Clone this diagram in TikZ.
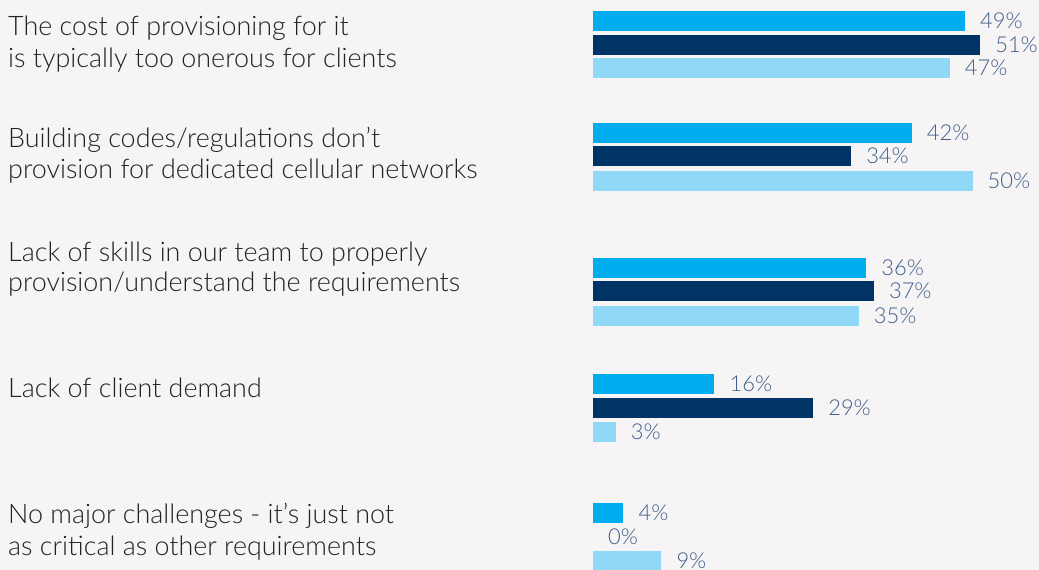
\documentclass[tikz,border=0pt]{standalone}
\usepackage{fontspec}
\setmainfont{Lato Light}
\definecolor{bgc}{HTML}{F6F4F5}
\definecolor{cA}{HTML}{00AEEF}
\definecolor{cB}{HTML}{003466}
\definecolor{cC}{HTML}{8FD8F6}
\definecolor{txt}{HTML}{222222}
\definecolor{pct}{HTML}{3F5F8A}
\newcommand\mybar[4]{%
  \ifnum#4>0 \fill[#3] (593,#2) rectangle ++({7.59*#4},20);\fi
  \node[val] (#1) at ({593+7.59*#4+15},{#2+10}) {#4\%};}
\begin{document}
\begin{tikzpicture}[x=1bp,y=-1bp,
  cat/.style={anchor=base west, inner sep=0, font=\fontsize{27}{31}\selectfont, text=txt},
  val/.style={anchor=west, inner sep=0, font=\fontsize{22}{22}\selectfont, text=pct}]
\fill[bgc] (0,0) rectangle (1039,570);
\useasboundingbox (0,0) rectangle (1039,570);
% group 1
\node[cat] (t1a) at (8,36) {The cost of provisioning for it};
\node[cat] (t1b) at (8,68) {is typically too onerous for clients};
\mybar{v1a}{11}{cA}{49}
\mybar{v1b}{35}{cB}{51}
\mybar{v1c}{58}{cC}{47}
% group 2
\node[cat] (t2a) at (8,148) {Building codes/regulations don’t};
\node[cat] (t2b) at (8,179) {provision for dedicated cellular networks};
\mybar{v2a}{123}{cA}{42}
\mybar{v2b}{146}{cB}{34}
\mybar{v2c}{171}{cC}{50}
% group 3
\node[cat] (t3a) at (8,262) {Lack of skills in our team to properly};
\node[cat] (t3b) at (8,292) {provision/understand the requirements};
\mybar{v3a}{258}{cA}{36}
\mybar{v3b}{281}{cB}{37}
\mybar{v3c}{306}{cC}{35}
% group 4
\node[cat] (t4a) at (8,397) {Lack of client demand};
\mybar{v4a}{374}{cA}{16}
\mybar{v4b}{398}{cB}{29}
\mybar{v4c}{422}{cC}{3}
% group 5
\node[cat] (t5a) at (8,523) {No major challenges - it’s just not};
\node[cat] (t5b) at (8,555) {as critical as other requirements};
\mybar{v5a}{503}{cA}{4}
\mybar{v5b}{527}{cB}{0}
\mybar{v5c}{551}{cC}{9}
\end{tikzpicture}
\end{document}
